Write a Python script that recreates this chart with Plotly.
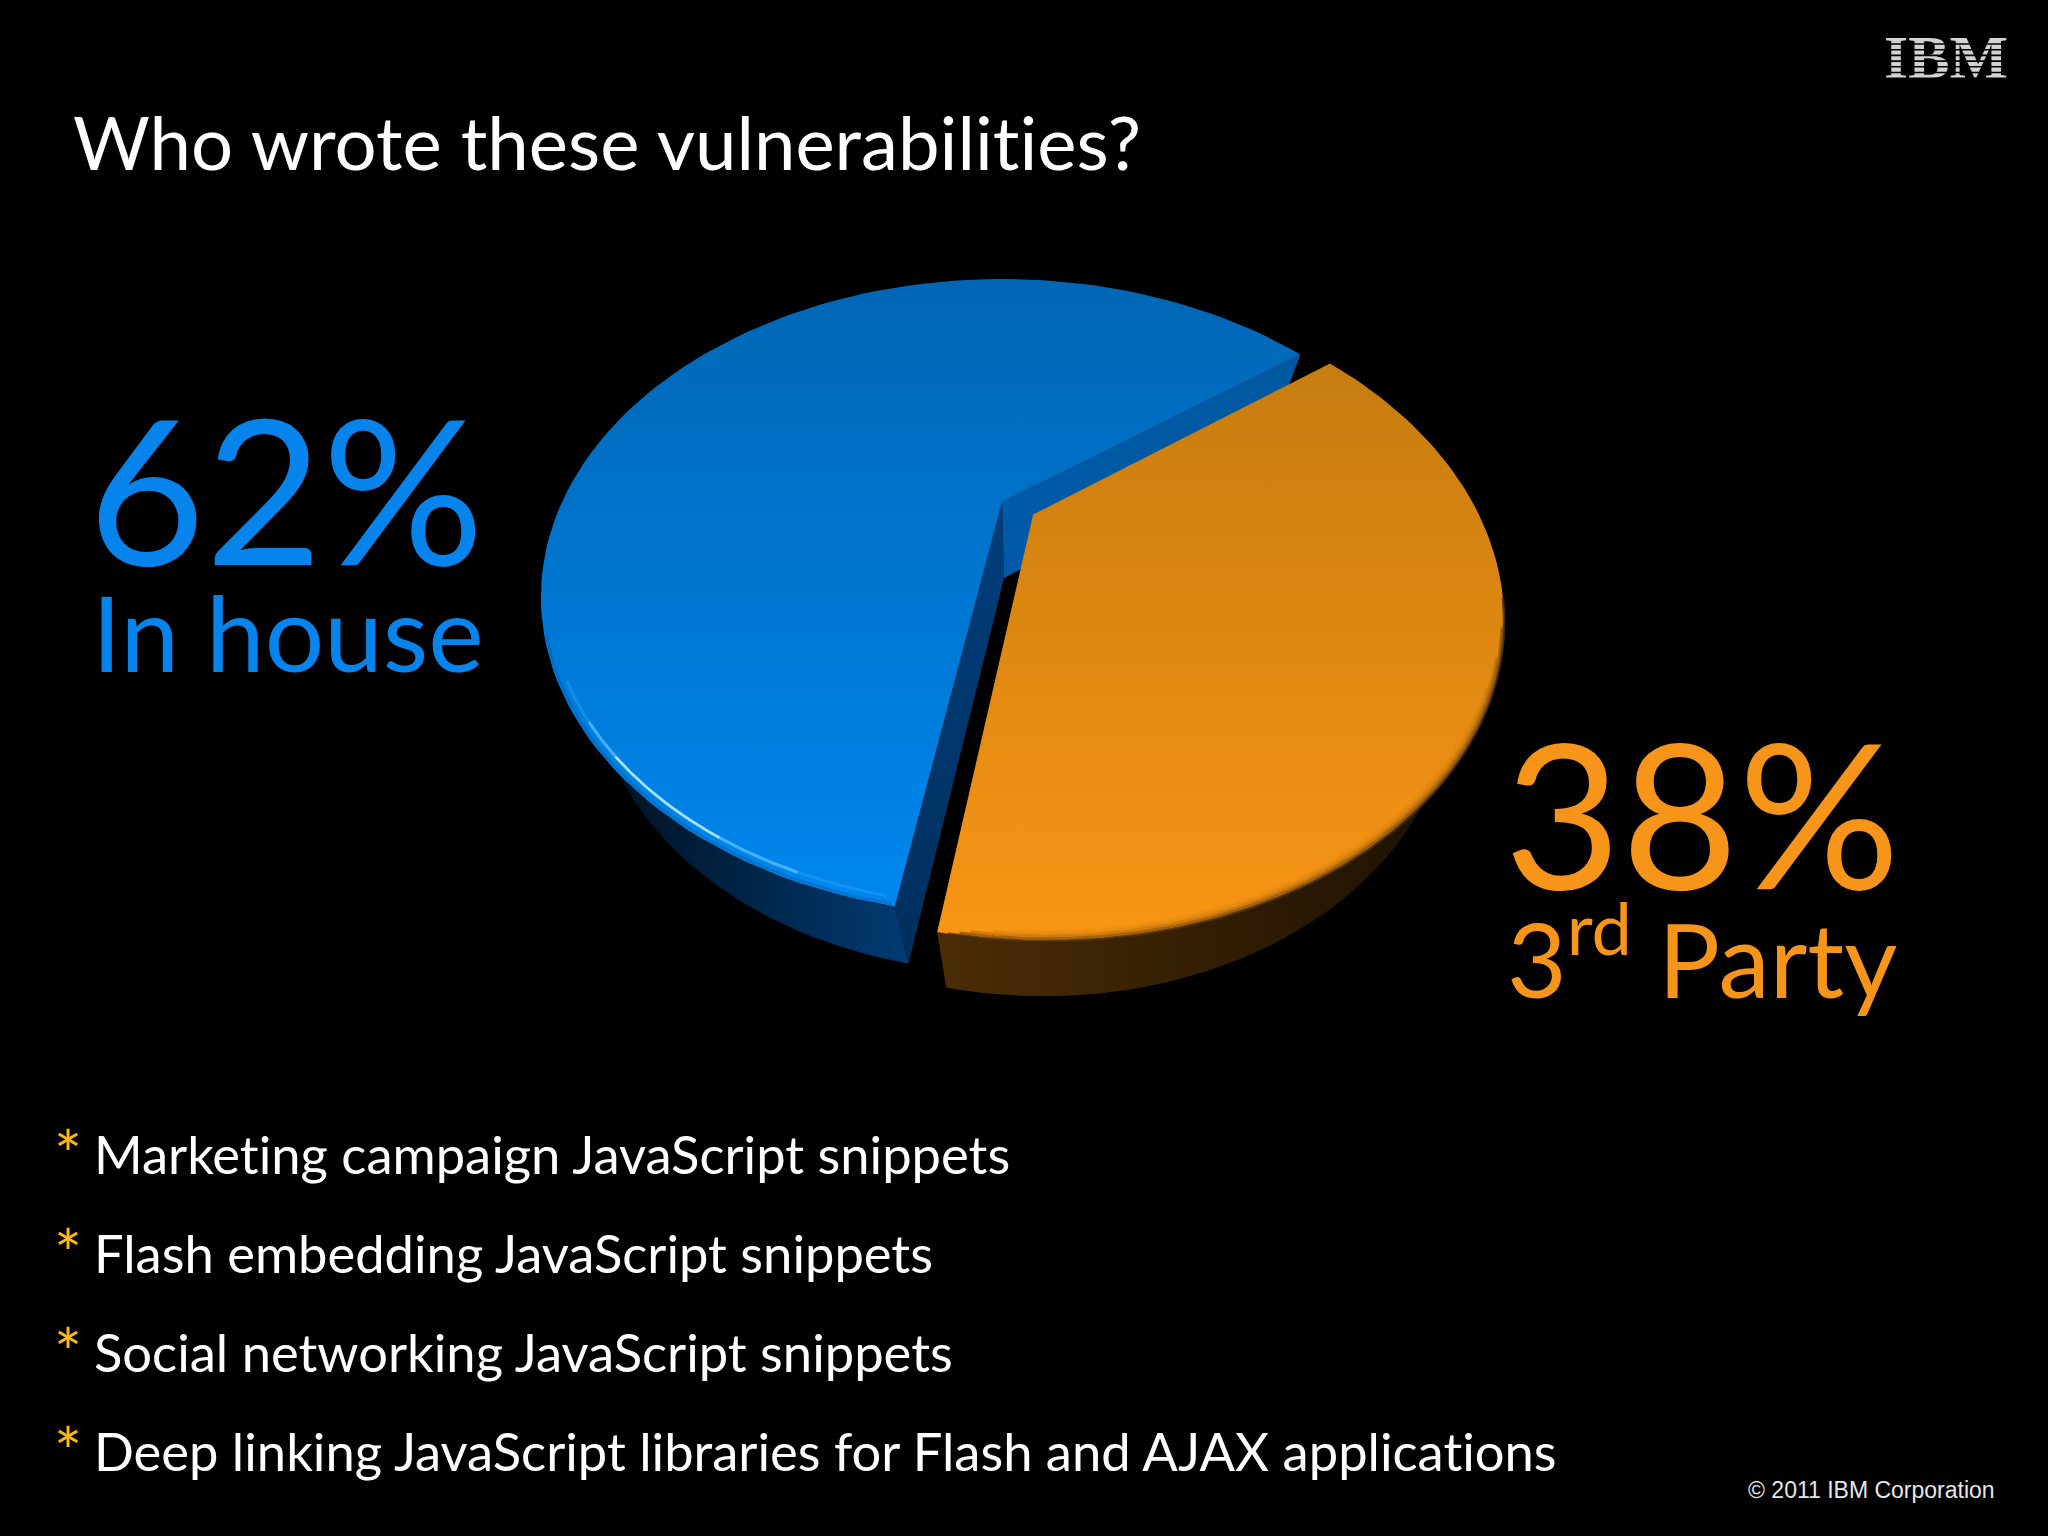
import numpy as np
import plotly.graph_objects as go

# ---- data ----
title = "Who wrote these vulnerabilities?"
shares = [62, 38]
share_labels = ["62%", "38%"]
names = ["In house", "3<sup>rd</sup> Party"]
bullets = [
    "Marketing campaign JavaScript snippets",
    "Flash embedding JavaScript snippets",
    "Social networking JavaScript snippets",
    "Deep linking JavaScript libraries for Flash and AJAX applications",
]
copyright_text = "\u00a9 2011 IBM Corporation"
logo_text = "<b>IBM</b>"

# ---- styles ----
BLUE = "#0684EC"
ORANGE = "#F7941A"
GOLD = "#FDB913"
SANS = "Lato, Carlito, Calibri, sans-serif"

START_DEG = 36.9     # angle at which the first slice begins (counter-clockwise)
EXPLODE = 0.082      # pull-out of the second slice
K = 0.299            # perspective strength
TOP = dict(x0=1002, y0=502, A=440.0, B=289.7)
LOW = dict(x0=1004, y0=578, A=392.0, B=276.0)


def project(u, v, plane):
    w = 1 + K * v
    return plane["x0"] + plane["A"] * u / w, plane["y0"] - plane["B"] * v / w


def rim(a0, a1, plane, r=1.0, off=(0.0, 0.0), n=120):
    t = np.radians(np.linspace(a0, a1, n))
    return project(r * np.cos(t) + off[0], r * np.sin(t) + off[1], plane)


def wedge(a0, a1, plane, off=(0.0, 0.0)):
    x, y = rim(a0, a1, plane, off=off)
    cx, cy = project(np.array([off[0]]), np.array([off[1]]), plane)
    return np.r_[cx, x, cx], np.r_[cy, y, cy]


def poly(x, y, c0, c1=None, kind="vertical", start=None, stop=None):
    tr = dict(x=x, y=y, mode="lines", fill="toself", line=dict(width=0), hoverinfo="skip", showlegend=False)
    if c1 is None:
        tr["fillcolor"] = c0
    else:
        tr["fillgradient"] = dict(type=kind, colorscale=[[0, c0], [1, c1]], start=start, stop=stop)
    return go.Scatter(**tr)


def arc(x, y, color, width):
    return go.Scatter(x=x, y=y, mode="lines", line=dict(color=color, width=width),
                      hoverinfo="skip", showlegend=False)


sweep = [s / sum(shares) * 360 for s in shares]
b0, b1 = START_DEG, START_DEG + sweep[0]
o0, o1 = b1, b1 + sweep[1]
mid = np.radians((o0 + o1) / 2)
off = (EXPLODE * np.cos(mid), EXPLODE * np.sin(mid))

fig = go.Figure()

# blue: outer side
tx, ty = rim(165, b1, TOP)
lx, ly = rim(165, b1, LOW)
fig.add_trace(poly(np.r_[tx, lx[::-1]], np.r_[ty, ly[::-1]], "#00101F", "#003A70", "horizontal", 600, 900))

# blue: cut walls
ca, sa = np.cos(np.radians(b0)), np.sin(np.radians(b0))
cb, sb = np.cos(np.radians(b1)), np.sin(np.radians(b1))
tipx, tipy = project(np.array([ca]), np.array([sa]), TOP)
tiplx, tiply = project(np.array([ca]), np.array([sa]), LOW)
corx, cory = project(np.array([cb]), np.array([sb]), TOP)
corlx, corly = project(np.array([cb]), np.array([sb]), LOW)
apx, apy = project(np.array([0.0]), np.array([0.0]), TOP)
alx, aly = project(np.array([0.0]), np.array([0.0]), LOW)
fig.add_trace(poly(np.r_[apx, corx, corlx, alx, apx], np.r_[apy, cory, corly, aly, apy], "#003F7C", "#002F5C", "vertical", 500, 960))
fig.add_trace(poly(np.r_[apx, tipx, tiplx, alx, apx], np.r_[apy, tipy, tiply, aly, apy], "#005AA8", "#0058A0", "horizontal", 1000, 1300))

# blue: top surface
x, y = wedge(b0, b1, TOP)
fig.add_trace(poly(x, y, "#0066B4", "#0087EE", "vertical", 280, 905))
# blue: bevel, a soft glow tapering into one bright streak
for a0, a1, col, wd, rr in [(204, b1 - 0.3, "rgba(0,95,175,0.45)", 3, 0.996),
                            (212, b1 - 1, "rgba(40,165,250,0.45)", 3, 0.984),
                            (219, 250, "rgba(100,200,255,0.6)", 3, 0.984),
                            (225, 241, "rgba(185,235,255,0.85)", 2.5, 0.984)]:
    hx, hy = rim(a0, a1, TOP, r=rr)
    fig.add_trace(arc(hx, hy, col, wd))

# orange: outer side
tx, ty = rim(o0, 372, TOP, off=off)
lx, ly = rim(o0, 372, LOW, off=off)
fig.add_trace(poly(np.r_[tx, lx[::-1]], np.r_[ty, ly[::-1]], "#4A2C06", "#1E1202", "horizontal", 950, 1430))

# orange: top surface
x, y = wedge(o0, o1, TOP, off=off)
fig.add_trace(poly(x, y, "#C67C10", "#F89514", "vertical", 365, 935))
# orange: soft rim, nested thin rings that taper off at both ends
for rr, col, a0, a1 in [(1.000, "rgba(80,48,6,0.85)", o0 + 1, 345),
                        (0.996, "rgba(120,72,8,0.65)", o0 + 2, 340),
                        (0.992, "rgba(160,95,10,0.45)", o0 + 3, 335),
                        (0.988, "rgba(195,115,12,0.30)", o0 + 5, 330),
                        (0.984, "rgba(215,128,14,0.18)", o0 + 7, 325)]:
    hx, hy = rim(a0, a1, TOP, r=rr, off=off)
    fig.add_trace(arc(hx, hy, col, 2.6))

# logo as text under its stripes
fig.add_trace(go.Scatter(x=[1946], y=[62], mode="text", text=[logo_text], textposition="middle center",
                         textfont=dict(family="Liberation Serif", size=62, color="#D2D2D2"),
                         hoverinfo="skip", showlegend=False))

ann = []


def label(x, y, text, size, color, font=SANS, anchor="left"):
    ann.append(dict(x=x, y=y, text=text, xref="x", yref="y", xanchor=anchor, yanchor="middle", showarrow=False,
                    font=dict(family=font, size=size, color=color), align="left"))


label(71, 141, title, 74.3, "white")
label(86, 487, share_labels[0], 202, BLUE)
label(90, 631, names[0], 105, BLUE)
label(1502, 811, share_labels[1], 202, ORANGE)
label(1505, 952, names[1], 103, ORANGE)
for i, b in enumerate(bullets):
    yb = 1153 + i * 99
    label(52, yb, "*", 66, GOLD)
    label(92, yb, b, 52.5, "white")
label(1746, 1490, copyright_text, 23, "#E6E6E6", font="Liberation Sans")

stripes = [dict(type="line", x0=1880, x1=2012, y0=yy, y1=yy, xref="x", yref="y",
                line=dict(color="black", width=1.6)) for yy in np.arange(44, 88, 5.7)]

fig.update_layout(
    width=2048, height=1536, margin=dict(l=0, r=0, t=0, b=0),
    paper_bgcolor="black", plot_bgcolor="black", showlegend=False,
    xaxis=dict(range=[0, 2048], visible=False, fixedrange=True),
    yaxis=dict(range=[1536, 0], visible=False, fixedrange=True),
    annotations=ann, shapes=stripes,
)
fig.write_html(
    "out.html",
    config=dict(displayModeBar=False),
    post_script=(
        "document.body.style.margin='0';document.body.style.background='#000';"
        "document.documentElement.style.overflow='hidden';"
        "var s=document.createElement('style');s.textContent='text,tspan{font-variant-ligatures:none !important}';"
        "document.head.appendChild(s);"
    ),
)
